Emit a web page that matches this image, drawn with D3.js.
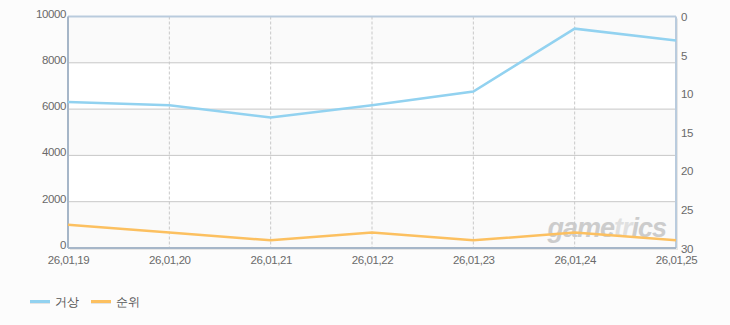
<!DOCTYPE html>
<html>
<head>
<meta charset="utf-8">
<script src="https://cdn.jsdelivr.net/npm/d3@7"></script>
<style>
  body { margin: 0; background: #fcfcfc; }
  text { font-family: "Liberation Sans", Arial, sans-serif; }
</style>
</head>
<body>
<div id="chart"></div>
<script>
// data
var dates = ['26,01,19', '26,01,20', '26,01,21', '26,01,22', '26,01,23', '26,01,24', '26,01,25'];
var usage = [6310, 6170, 5640, 6165, 6760, 9475, 8960];   // 거상 (left axis)
var rank = [27, 28, 29, 28, 29, 28, 29];                     // 순위 (right axis)
var leftTicks = [0, 2000, 4000, 6000, 8000, 10000];
var rightTicks = [0, 5, 10, 15, 20, 25, 30];

var svgWidth = 730, svgHeight = 325;
var margin = { top: 16.5, right: 54, bottom: 77, left: 68 };
var width = svgWidth - margin.left - margin.right;
var height = svgHeight - margin.top - margin.bottom;

var svg = d3.select('#chart').append('svg')
    .attr('width', svgWidth)
    .attr('height', svgHeight);

var g = svg.append('g')
    .attr('transform', `translate(${margin.left}, ${margin.top})`);

var x = d3.scalePoint().domain(dates).range([0, width]);
var yL = d3.scaleLinear().domain([0, 10000]).range([height, 0]);
var yR = d3.scaleLinear().domain([0, 30]).range([0, height]);

// shadow under plot
g.append('rect')
    .attr('x', 2).attr('y', 2)
    .attr('width', width).attr('height', height)
    .attr('fill', '#e6e6e6');

// alternating bands
for (var i = 0; i < leftTicks.length - 1; i++) {
    g.append('rect')
        .attr('x', 0)
        .attr('y', yL(leftTicks[i + 1]))
        .attr('width', width)
        .attr('height', yL(leftTicks[i]) - yL(leftTicks[i + 1]))
        .attr('fill', i % 2 === 0 ? '#fafafa' : '#ffffff');
}

// horizontal grid
g.selectAll('.hgrid')
    .data(leftTicks.slice(1, -1))
    .enter().append('line')
    .attr('x1', 0).attr('x2', width)
    .attr('y1', d => yL(d)).attr('y2', d => yL(d))
    .attr('stroke', '#c8c8c8').attr('stroke-width', 1);

// vertical dashed grid
g.selectAll('.vgrid')
    .data(dates.slice(1, -1))
    .enter().append('line')
    .attr('x1', d => x(d)).attr('x2', d => x(d))
    .attr('y1', 0).attr('y2', height)
    .attr('stroke', '#c8c8c8').attr('stroke-width', 1)
    .attr('stroke-dasharray', '3,2');

// border
g.append('line').attr('x1', 0).attr('x2', width).attr('y1', 0).attr('y2', 0)
    .attr('stroke', '#b9cbdd').attr('stroke-width', 2);
g.append('line').attr('x1', width).attr('x2', width).attr('y1', 0).attr('y2', height)
    .attr('stroke', '#b9cbdd').attr('stroke-width', 2);
g.append('line').attr('x1', 0).attr('x2', 0).attr('y1', 0).attr('y2', height)
    .attr('stroke', '#a6b6c8').attr('stroke-width', 2);
g.append('line').attr('x1', 0).attr('x2', width).attr('y1', height).attr('y2', height)
    .attr('stroke', '#a6b6c8').attr('stroke-width', 2);

// watermark
var wm = g.append('text')
    .attr('x', width - 10).attr('y', height - 11)
    .attr('text-anchor', 'end')
    .attr('font-size', '27px')
    .attr('font-weight', 'bold')
    .attr('font-style', 'italic')
    .attr('letter-spacing', '-1')
    .attr('fill', '#c8c8c8')
    .attr('opacity', 0.9);
wm.append('tspan').text('game');
wm.append('tspan').attr('fill', '#dedede').text('tr');
wm.append('tspan').text('ics');

// lines
var lineL = d3.line().x((d, i) => x(dates[i])).y(d => yL(d));
var lineR = d3.line().x((d, i) => x(dates[i])).y(d => yR(d));

g.append('path').datum(rank)
    .attr('d', lineR)
    .attr('fill', 'none')
    .attr('stroke', '#fcc060')
    .attr('stroke-width', 2.5);

g.append('path').datum(usage)
    .attr('d', lineL)
    .attr('fill', 'none')
    .attr('stroke', '#92d2f0')
    .attr('stroke-width', 2.5);

// axes
var tickFont = '11.5px';
var leftAxis = g.append('g')
    .call(d3.axisLeft(yL).tickValues(leftTicks).tickFormat(d3.format('d')).tickSize(0).tickPadding(2));
var rightAxis = g.append('g')
    .attr('transform', `translate(${width}, 0)`)
    .call(d3.axisRight(yR).tickValues(rightTicks).tickSize(0).tickPadding(5));
var bottomAxis = g.append('g')
    .attr('transform', `translate(0, ${height})`)
    .call(d3.axisBottom(x).tickSize(0).tickPadding(8));

[leftAxis, rightAxis, bottomAxis].forEach(function(a) {
    a.select('.domain').remove();
    a.selectAll('text')
        .attr('font-size', tickFont)
        .attr('fill', '#6a6a6a')
        .attr('font-family', '"Liberation Sans", Arial, sans-serif')
        .attr('letter-spacing', '-0.4');
});
leftAxis.selectAll('text').attr('dy', '0.05em');
rightAxis.selectAll('text').attr('dy', '0.35em');

// legend
var legendNames = ['거상', '순위'];
var legendColors = ['#92d2f0', '#fcc060'];
var legend = svg.append('g').attr('transform', 'translate(30, 302)');
legendNames.forEach(function(name, i) {
    var item = legend.append('g').attr('transform', `translate(${i * 61}, 0)`);
    item.append('line')
        .attr('x1', 0).attr('x2', 20).attr('y1', 0.5).attr('y2', 0.5)
        .attr('stroke', '#e4e4e4').attr('stroke-width', 3);
    item.append('line')
        .attr('x1', 0).attr('x2', 20).attr('y1', -0.5).attr('y2', -0.5)
        .attr('stroke', legendColors[i]).attr('stroke-width', 3);
    item.append('text')
        .attr('x', 25).attr('y', 4)
        .attr('font-size', '12px')
        .attr('fill', '#555')
        .attr('font-family', '"Noto Sans CJK KR", sans-serif')
        .text(name);
});
</script>
</body>
</html>
